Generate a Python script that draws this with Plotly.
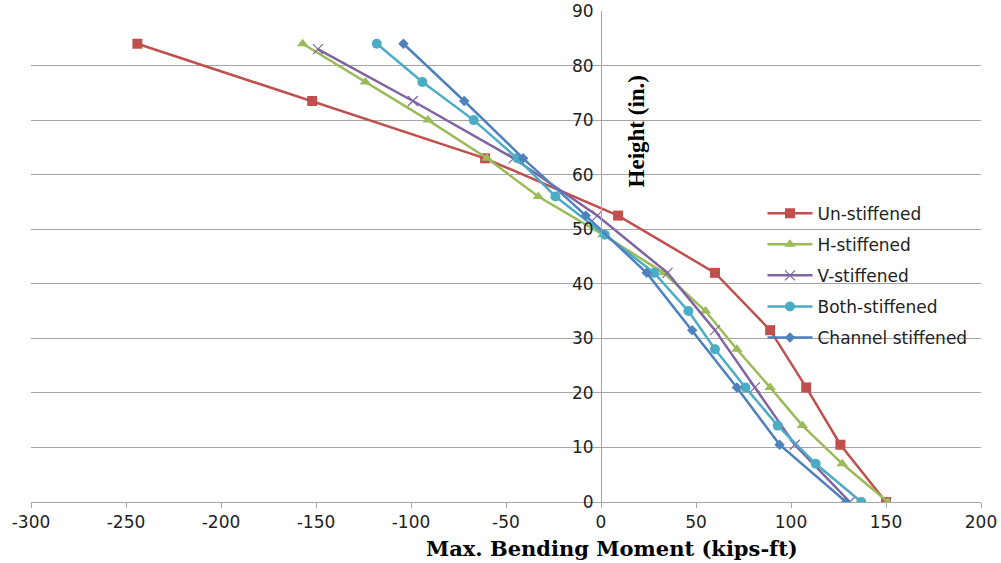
import plotly.graph_objects as go

# ---- data ----
h9 = [84, 73.5, 63, 52.5, 42, 31.5, 21, 10.5, 0]
h13 = [84, 77, 70, 63, 56, 49, 42, 35, 28, 21, 14, 7, 0]
h9_v = [83, 73.5, 63, 52.5, 42, 31.5, 21, 10.5, 0]

un_stiffened = [-244, -152, -61, 9, 60, 89, 108, 126, 150]
h_stiffened = [-157, -124, -91, -60, -33, 1, 33, 55, 71.5, 89, 106, 127, 151]
v_stiffened = [-149, -99, -46, -2, 35, 60, 81, 102, 131]
both_stiffened = [-118, -94, -67, -44, -24, 2, 28, 46, 60, 76, 93, 113, 137]
channel_stiffened = [-104, -72, -41, -8, 24, 48, 71.5, 94, 129]

x_ticks = [-300, -250, -200, -150, -100, -50, 0, 50, 100, 150, 200]
y_ticks = [0, 10, 20, 30, 40, 50, 60, 70, 80, 90]

series = [
    ("Un-stiffened", un_stiffened, h9, "#C0504D", dict(symbol="square", size=10)),
    ("H-stiffened", h_stiffened, h13, "#9BBB59", dict(symbol="triangle-up", size=10)),
    ("V-stiffened", v_stiffened, h9_v, "#8064A2", dict(symbol="x-thin-open", size=10, line=dict(width=1.2, color="#8064A2"))),
    ("Both-stiffened", both_stiffened, h13, "#4BACC6", dict(symbol="circle", size=10)),
    ("Channel stiffened", channel_stiffened, h9, "#4F81BD", dict(symbol="diamond", size=8)),
]

fig = go.Figure()
for i, (name, xs, ys, col, mk) in enumerate(series):
    m = dict(color=col)
    m.update(mk)
    fig.add_trace(go.Scatter(
        x=xs, y=ys, name=name, mode="lines+markers",
        line=dict(color=col, width=2.5), marker=m,
        legendgroup=f"g{i}",
    ))

tick_font = dict(family="DejaVu Sans, sans-serif", size=17, color="#222222")
grid_col = "#A6A6A6"

fig.update_layout(
    width=1001, height=563,
    margin=dict(l=31, r=20, t=11, b=61, autoexpand=False),
    paper_bgcolor="white", plot_bgcolor="white",
    showlegend=True,
    legend=dict(
        x=0.77, y=0.624, xanchor="left", yanchor="top",
        font=dict(family="DejaVu Sans, sans-serif", size=17, color="#222222"),
        bgcolor="rgba(0,0,0,0)", tracegroupgap=6,
        traceorder="grouped", itemwidth=45,
    ),
    xaxis=dict(
        range=[-300, 200], tickvals=x_ticks, ticktext=[str(v) for v in x_ticks],
        showgrid=False, zeroline=False, automargin=False,
        showline=True, linecolor=grid_col, linewidth=1,
        ticks="outside", ticklen=5, tickcolor=grid_col,
        tickfont=tick_font, fixedrange=True,
    ),
    yaxis=dict(
        range=[0, 90], tickvals=y_ticks, ticktext=[str(v) for v in y_ticks],
        showgrid=True, gridcolor=grid_col, gridwidth=1,
        zeroline=False, automargin=False,
        anchor="free", position=0.6,
        showline=True, linecolor=grid_col, linewidth=1,
        ticks="", tickfont=tick_font, ticklabelstandoff=4,
    ),
    annotations=[
        dict(text="<b>Max. Bending Moment (kips-ft)</b>", xref="paper", yref="paper",
             x=0.612, y=-0.095, xanchor="center", yanchor="middle", showarrow=False,
             font=dict(family="DejaVu Serif, serif", size=21, color="black")),
        dict(text="<b>Height (in.)</b>", xref="paper", yref="paper",
             x=0.637, y=0.755, xanchor="center", yanchor="middle", showarrow=False,
             textangle=-90,
             font=dict(family="Liberation Serif, Times New Roman, serif", size=23, color="black")),
    ],
)

fig.write_html("out.html")
